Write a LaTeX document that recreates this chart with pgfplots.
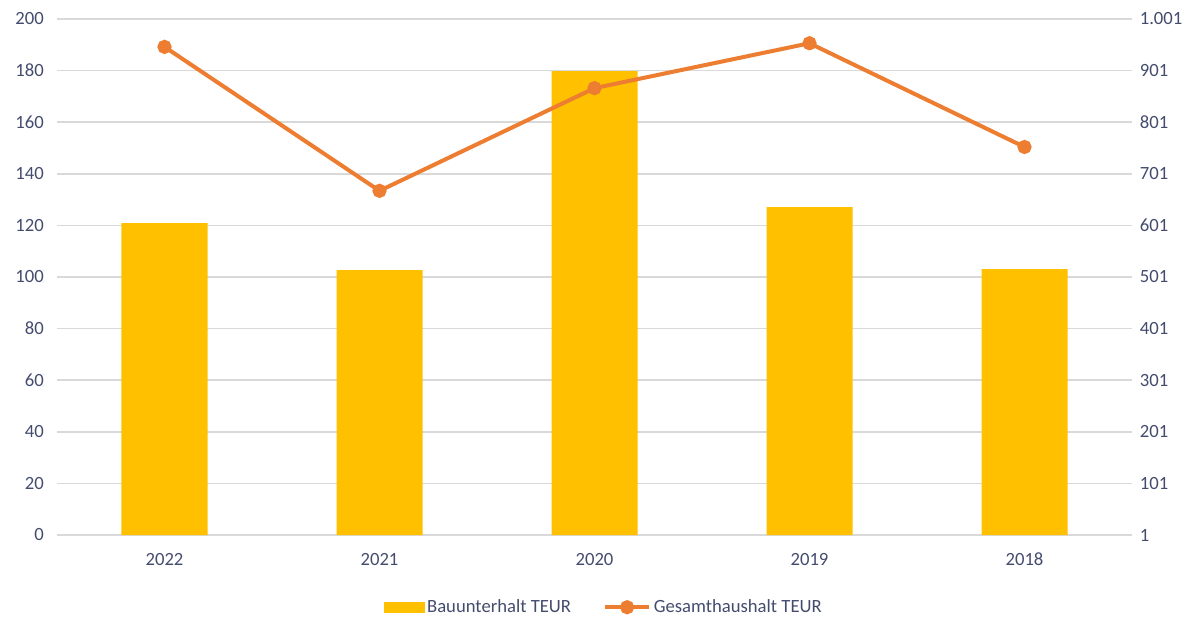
\documentclass[border=0pt]{standalone}
\usepackage{pgfplots}
\pgfplotsset{compat=1.18}
\usepackage{fontspec}
\setmainfont{Carlito}
\definecolor{barcol}{RGB}{255,192,0}
\definecolor{linecol}{RGB}{237,125,49}
\definecolor{txtcol}{RGB}{68,76,110}
\definecolor{gridcol}{RGB}{217,217,217}
\begin{document}
\fontsize{14}{17}\selectfont
\begin{tikzpicture}[x=1pt,y=1pt]
\begin{axis}[
  at={(0,0)}, anchor=south west,
  scale only axis, width=806.25pt, height=387pt,
  xmin=-0.5, xmax=4.5, ymin=0, ymax=200,
  xtick={0,1,2,3,4}, xticklabels={2022,2021,2020,2019,2018},
  ytick={0,20,...,200},
  ymajorgrids, grid style={gridcol, line width=1.1pt},
  axis line style={draw=none},
  major tick length=0pt,
  tick label style={text=txtcol, font=\fontsize{14}{17}\selectfont},
  /pgf/number format/assume math mode=true,
  yticklabel style={xshift=-5pt},
  xticklabel style={anchor=north, text height=10pt, text depth=0pt, yshift=-8pt},
  clip=false,
]
\addplot[ybar, bar width=64.5pt, fill=barcol, draw=none] coordinates {
  (0,120.9) (1,102.7) (2,179.8) (3,127.1) (4,103.1)
};
\end{axis}
\begin{axis}[
  at={(0,0)}, anchor=south west,
  scale only axis, width=806.25pt, height=387pt,
  xmin=-0.5, xmax=4.5, ymin=1, ymax=1001,
  axis y line*=right, axis x line=none,
  ytick={1,101,...,1001},
  axis line style={draw=none},
  major tick length=0pt,
  tick label style={text=txtcol, font=\fontsize{14}{17}\selectfont},
  /pgf/number format/assume math mode=true,
  /pgf/number format/1000 sep={.},
  yticklabel style={xshift=1pt, anchor=west},
  clip=false,
  legend style={at={(0.509,-0.14)}, anchor=center, draw=none, fill=none,
    legend columns=2, font=\fontsize{14}{17}\selectfont, text=txtcol,
    /tikz/every even column/.append style={column sep=22pt}},
]
\addlegendimage{legend image code/.code={\fill[barcol] (0pt,-3.8pt) rectangle (30pt,3.8pt);}}
\addlegendentry{Bauunterhalt TEUR}
\addplot[color=linecol, line width=3pt, mark=*, mark size=3.8pt, mark options={fill=linecol, draw=linecol},
  legend image code/.code={\draw[linecol, line width=3pt] (0pt,0pt) -- (33pt,0pt); \fill[linecol] (16.5pt,0pt) circle (3.8pt);}]
 coordinates {
  (0,947) (1,668) (2,867) (3,954) (4,753)
};
\addlegendentry{Gesamthaushalt TEUR}
\end{axis}
\pgfresetboundingbox
\path (-42.75pt,-63pt) rectangle (859.5pt,401.25pt);
\end{tikzpicture}
\end{document}
